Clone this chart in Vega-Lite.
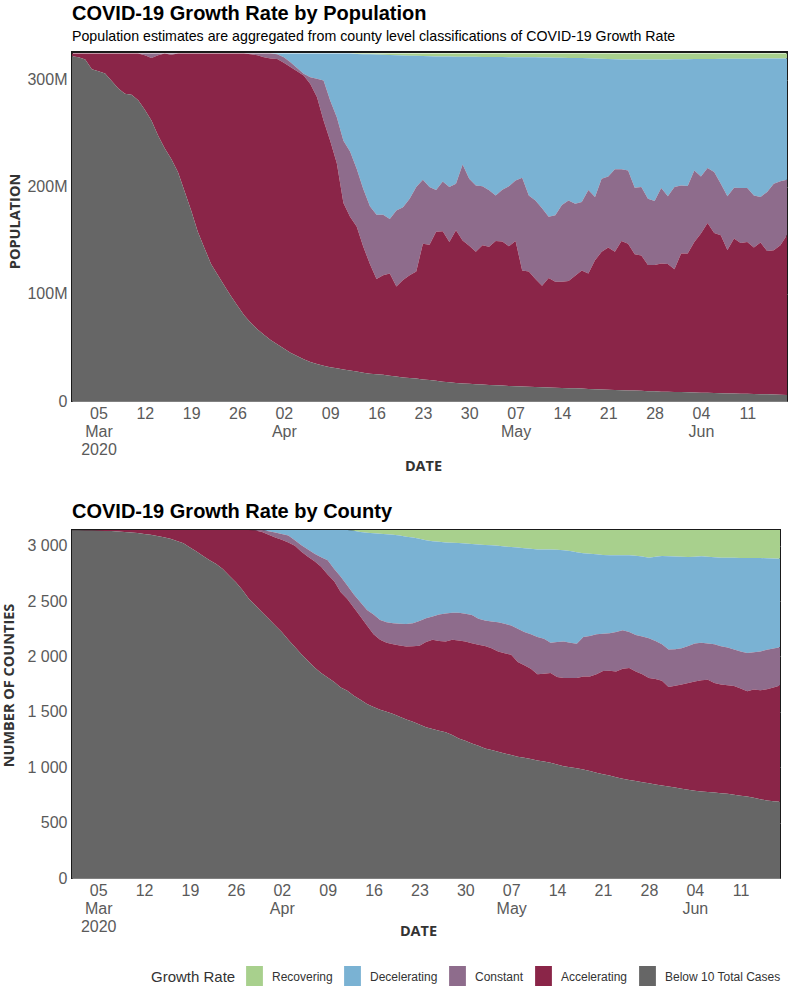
{
  "$schema": "https://vega.github.io/schema/vega-lite/v6.json",
  "background": "white",
  "padding": {"left": 0, "top": 2, "right": 2, "bottom": 0},
  "spacing": 27,
  "config": {
    "font": "Liberation Sans",
    "view": {"stroke": "#1a1a1a", "strokeWidth": 2},
    "title": {"anchor": "start", "frame": "group", "font": "Liberation Sans", "fontSize": 20, "fontWeight": "bold", "color": "#000000", "subtitleFont": "Liberation Sans", "subtitleFontSize": 14.2, "subtitleColor": "#000000", "subtitlePadding": 6, "offset": 8},
    "axis": {"labelFont": "Liberation Sans", "labelFontSize": 16, "labelColor": "#5a5a5a", "ticks": false, "domain": false, "titleFont": "Open Sans", "titleFontWeight": "bold", "titleFontSize": 14.5, "titleColor": "#333333", "gridColor": "#ffffff", "gridOpacity": 0.45, "gridWidth": 1, "zindex": 1, "labelPadding": 5},
    "legend": {"symbolStrokeWidth": 0, "symbolOpacity": 1}
  },
  "datasets": {
    "levels": [
      {"status": "Below 10 Total Cases", "level": 0},
      {"status": "Accelerating", "level": 1},
      {"status": "Constant", "level": 2},
      {"status": "Decelerating", "level": 3},
      {"status": "Recovering", "level": 4}
    ],
    "pop": [
      {"date":"2020-03-01","Below 10 Total Cases":322,"Accelerating":2.5,"Constant":0,"Decelerating":0,"Recovering":0},
      {"date":"2020-03-02","Below 10 Total Cases":321,"Accelerating":3.5,"Constant":0,"Decelerating":0,"Recovering":0},
      {"date":"2020-03-03","Below 10 Total Cases":319,"Accelerating":5.5,"Constant":0,"Decelerating":0,"Recovering":0},
      {"date":"2020-03-04","Below 10 Total Cases":310,"Accelerating":14.5,"Constant":0,"Decelerating":0,"Recovering":0},
      {"date":"2020-03-05","Below 10 Total Cases":308,"Accelerating":16.5,"Constant":0,"Decelerating":0,"Recovering":0},
      {"date":"2020-03-06","Below 10 Total Cases":306,"Accelerating":18.5,"Constant":0,"Decelerating":0,"Recovering":0},
      {"date":"2020-03-07","Below 10 Total Cases":299,"Accelerating":25.5,"Constant":0,"Decelerating":0,"Recovering":0},
      {"date":"2020-03-08","Below 10 Total Cases":292,"Accelerating":32.5,"Constant":0,"Decelerating":0,"Recovering":0},
      {"date":"2020-03-09","Below 10 Total Cases":287,"Accelerating":37.5,"Constant":0,"Decelerating":0,"Recovering":0},
      {"date":"2020-03-10","Below 10 Total Cases":286,"Accelerating":38.5,"Constant":0,"Decelerating":0,"Recovering":0},
      {"date":"2020-03-11","Below 10 Total Cases":281,"Accelerating":43.5,"Constant":0,"Decelerating":0,"Recovering":0},
      {"date":"2020-03-12","Below 10 Total Cases":272,"Accelerating":51,"Constant":1.5,"Decelerating":0,"Recovering":0},
      {"date":"2020-03-13","Below 10 Total Cases":262,"Accelerating":58.5,"Constant":4,"Decelerating":0,"Recovering":0},
      {"date":"2020-03-14","Below 10 Total Cases":248,"Accelerating":75,"Constant":1.5,"Decelerating":0,"Recovering":0},
      {"date":"2020-03-15","Below 10 Total Cases":236,"Accelerating":88.5,"Constant":0,"Decelerating":0,"Recovering":0},
      {"date":"2020-03-16","Below 10 Total Cases":226,"Accelerating":97.5,"Constant":1,"Decelerating":0,"Recovering":0},
      {"date":"2020-03-17","Below 10 Total Cases":214,"Accelerating":110.5,"Constant":0,"Decelerating":0,"Recovering":0},
      {"date":"2020-03-18","Below 10 Total Cases":196,"Accelerating":128.5,"Constant":0,"Decelerating":0,"Recovering":0},
      {"date":"2020-03-19","Below 10 Total Cases":178,"Accelerating":146.5,"Constant":0,"Decelerating":0,"Recovering":0},
      {"date":"2020-03-20","Below 10 Total Cases":158,"Accelerating":166.5,"Constant":0,"Decelerating":0,"Recovering":0},
      {"date":"2020-03-21","Below 10 Total Cases":143,"Accelerating":181.5,"Constant":0,"Decelerating":0,"Recovering":0},
      {"date":"2020-03-22","Below 10 Total Cases":128,"Accelerating":196.5,"Constant":0,"Decelerating":0,"Recovering":0},
      {"date":"2020-03-23","Below 10 Total Cases":118,"Accelerating":206.5,"Constant":0,"Decelerating":0,"Recovering":0},
      {"date":"2020-03-24","Below 10 Total Cases":108,"Accelerating":216.5,"Constant":0,"Decelerating":0,"Recovering":0},
      {"date":"2020-03-25","Below 10 Total Cases":98,"Accelerating":226.5,"Constant":0,"Decelerating":0,"Recovering":0},
      {"date":"2020-03-26","Below 10 Total Cases":89,"Accelerating":235.5,"Constant":0,"Decelerating":0,"Recovering":0},
      {"date":"2020-03-27","Below 10 Total Cases":80,"Accelerating":244.5,"Constant":0,"Decelerating":0,"Recovering":0},
      {"date":"2020-03-28","Below 10 Total Cases":73,"Accelerating":251,"Constant":0.5,"Decelerating":0,"Recovering":0},
      {"date":"2020-03-29","Below 10 Total Cases":67,"Accelerating":256,"Constant":1.5,"Decelerating":0,"Recovering":0},
      {"date":"2020-03-30","Below 10 Total Cases":62,"Accelerating":259,"Constant":3.5,"Decelerating":0,"Recovering":0},
      {"date":"2020-03-31","Below 10 Total Cases":57,"Accelerating":263,"Constant":4.5,"Decelerating":0,"Recovering":0},
      {"date":"2020-04-01","Below 10 Total Cases":53,"Accelerating":266.5,"Constant":4.5,"Decelerating":0.5,"Recovering":0},
      {"date":"2020-04-02","Below 10 Total Cases":49,"Accelerating":267,"Constant":5,"Decelerating":3.5,"Recovering":0},
      {"date":"2020-04-03","Below 10 Total Cases":45,"Accelerating":267,"Constant":4.4,"Decelerating":8.1,"Recovering":0},
      {"date":"2020-04-04","Below 10 Total Cases":42,"Accelerating":266,"Constant":3,"Decelerating":13.5,"Recovering":0},
      {"date":"2020-04-05","Below 10 Total Cases":39,"Accelerating":265,"Constant":1.6,"Decelerating":18.9,"Recovering":0},
      {"date":"2020-04-06","Below 10 Total Cases":36.5,"Accelerating":259.5,"Constant":6.5,"Decelerating":22,"Recovering":0},
      {"date":"2020-04-07","Below 10 Total Cases":34.5,"Accelerating":249.5,"Constant":17,"Decelerating":23.5,"Recovering":0},
      {"date":"2020-04-08","Below 10 Total Cases":33,"Accelerating":229,"Constant":37.3,"Decelerating":25.2,"Recovering":0},
      {"date":"2020-04-09","Below 10 Total Cases":31.5,"Accelerating":211.5,"Constant":37.7,"Decelerating":43.8,"Recovering":0},
      {"date":"2020-04-10","Below 10 Total Cases":30.5,"Accelerating":191.5,"Constant":43,"Decelerating":59.5,"Recovering":0},
      {"date":"2020-04-11","Below 10 Total Cases":29.5,"Accelerating":155.5,"Constant":58,"Decelerating":81.5,"Recovering":0},
      {"date":"2020-04-12","Below 10 Total Cases":28.5,"Accelerating":143.5,"Constant":61,"Decelerating":91.5,"Recovering":0},
      {"date":"2020-04-13","Below 10 Total Cases":27.5,"Accelerating":135.5,"Constant":54,"Decelerating":107.2,"Recovering":0.3},
      {"date":"2020-04-14","Below 10 Total Cases":26.5,"Accelerating":117.5,"Constant":54,"Decelerating":126,"Recovering":0.5},
      {"date":"2020-04-15","Below 10 Total Cases":25.5,"Accelerating":102.5,"Constant":54,"Decelerating":141.8,"Recovering":0.7},
      {"date":"2020-04-16","Below 10 Total Cases":25,"Accelerating":89,"Constant":60,"Decelerating":149.6,"Recovering":0.9},
      {"date":"2020-04-17","Below 10 Total Cases":24.5,"Accelerating":93,"Constant":56.5,"Decelerating":149.4,"Recovering":1.1},
      {"date":"2020-04-18","Below 10 Total Cases":23.5,"Accelerating":95.5,"Constant":51,"Decelerating":153.2,"Recovering":1.3},
      {"date":"2020-04-19","Below 10 Total Cases":23,"Accelerating":84,"Constant":71,"Decelerating":145,"Recovering":1.5},
      {"date":"2020-04-20","Below 10 Total Cases":22,"Accelerating":91,"Constant":68,"Decelerating":141.8,"Recovering":1.7},
      {"date":"2020-04-21","Below 10 Total Cases":21.5,"Accelerating":96,"Constant":71.5,"Decelerating":133.6,"Recovering":1.9},
      {"date":"2020-04-22","Below 10 Total Cases":21,"Accelerating":100,"Constant":79,"Decelerating":122.4,"Recovering":2.1},
      {"date":"2020-04-23","Below 10 Total Cases":20,"Accelerating":127,"Constant":59.7,"Decelerating":115.5,"Recovering":2.3},
      {"date":"2020-04-24","Below 10 Total Cases":19.5,"Accelerating":126.5,"Constant":54,"Decelerating":122,"Recovering":2.5},
      {"date":"2020-04-25","Below 10 Total Cases":19,"Accelerating":139,"Constant":39,"Decelerating":124.9,"Recovering":2.6},
      {"date":"2020-04-26","Below 10 Total Cases":18,"Accelerating":140.5,"Constant":46.5,"Decelerating":116.8,"Recovering":2.7},
      {"date":"2020-04-27","Below 10 Total Cases":17.5,"Accelerating":131.1,"Constant":51.4,"Decelerating":121.7,"Recovering":2.8},
      {"date":"2020-04-28","Below 10 Total Cases":16.8,"Accelerating":142.7,"Constant":43.5,"Decelerating":118.6,"Recovering":2.9},
      {"date":"2020-04-29","Below 10 Total Cases":16.3,"Accelerating":133.7,"Constant":71,"Decelerating":100.5,"Recovering":3},
      {"date":"2020-04-30","Below 10 Total Cases":16,"Accelerating":129,"Constant":62.6,"Decelerating":113.9,"Recovering":3},
      {"date":"2020-05-01","Below 10 Total Cases":15.6,"Accelerating":123.9,"Constant":61.9,"Decelerating":120.1,"Recovering":3},
      {"date":"2020-05-02","Below 10 Total Cases":15.3,"Accelerating":130.2,"Constant":55,"Decelerating":120.9,"Recovering":3.1},
      {"date":"2020-05-03","Below 10 Total Cases":15,"Accelerating":129,"Constant":52.8,"Decelerating":124.6,"Recovering":3.1},
      {"date":"2020-05-04","Below 10 Total Cases":14.7,"Accelerating":134.8,"Constant":42.5,"Decelerating":129.3,"Recovering":3.2},
      {"date":"2020-05-05","Below 10 Total Cases":14.4,"Accelerating":134.6,"Constant":48.4,"Decelerating":123.9,"Recovering":3.2},
      {"date":"2020-05-06","Below 10 Total Cases":14.1,"Accelerating":130.5,"Constant":55.9,"Decelerating":120.7,"Recovering":3.3},
      {"date":"2020-05-07","Below 10 Total Cases":13.8,"Accelerating":135.7,"Constant":56.5,"Decelerating":115.2,"Recovering":3.3},
      {"date":"2020-05-08","Below 10 Total Cases":13.6,"Accelerating":108.4,"Constant":86.6,"Decelerating":112.5,"Recovering":3.4},
      {"date":"2020-05-09","Below 10 Total Cases":13.4,"Accelerating":107.6,"Constant":71,"Decelerating":129.1,"Recovering":3.4},
      {"date":"2020-05-10","Below 10 Total Cases":13.1,"Accelerating":100.9,"Constant":73.4,"Decelerating":133.6,"Recovering":3.5},
      {"date":"2020-05-11","Below 10 Total Cases":12.9,"Accelerating":94.7,"Constant":72.4,"Decelerating":140.9,"Recovering":3.6},
      {"date":"2020-05-12","Below 10 Total Cases":12.7,"Accelerating":102.3,"Constant":57,"Decelerating":148.8,"Recovering":3.7},
      {"date":"2020-05-13","Below 10 Total Cases":12.4,"Accelerating":98.9,"Constant":62.2,"Decelerating":147.2,"Recovering":3.8},
      {"date":"2020-05-14","Below 10 Total Cases":12.2,"Accelerating":99.3,"Constant":71.5,"Decelerating":137.6,"Recovering":3.9},
      {"date":"2020-05-15","Below 10 Total Cases":12,"Accelerating":100,"Constant":75.4,"Decelerating":133.1,"Recovering":4},
      {"date":"2020-05-16","Below 10 Total Cases":11.8,"Accelerating":105.2,"Constant":67.3,"Decelerating":136.2,"Recovering":4},
      {"date":"2020-05-17","Below 10 Total Cases":11.6,"Accelerating":110.4,"Constant":64,"Decelerating":134.3,"Recovering":4.2},
      {"date":"2020-05-18","Below 10 Total Cases":11.3,"Accelerating":107.7,"Constant":78,"Decelerating":123.1,"Recovering":4.4},
      {"date":"2020-05-19","Below 10 Total Cases":11,"Accelerating":120.5,"Constant":59.1,"Decelerating":129.3,"Recovering":4.6},
      {"date":"2020-05-20","Below 10 Total Cases":10.8,"Accelerating":128.5,"Constant":68.3,"Decelerating":112.1,"Recovering":4.8},
      {"date":"2020-05-21","Below 10 Total Cases":10.6,"Accelerating":132.7,"Constant":66.5,"Decelerating":109.7,"Recovering":5},
      {"date":"2020-05-22","Below 10 Total Cases":10.3,"Accelerating":129,"Constant":77.1,"Decelerating":102.8,"Recovering":5.3},
      {"date":"2020-05-23","Below 10 Total Cases":10.1,"Accelerating":139.4,"Constant":66.9,"Decelerating":102.6,"Recovering":5.5},
      {"date":"2020-05-24","Below 10 Total Cases":9.9,"Accelerating":137.1,"Constant":68.4,"Decelerating":103.5,"Recovering":5.6},
      {"date":"2020-05-25","Below 10 Total Cases":9.7,"Accelerating":127.3,"Constant":62.3,"Decelerating":119.6,"Recovering":5.6},
      {"date":"2020-05-26","Below 10 Total Cases":9.5,"Accelerating":126.5,"Constant":64,"Decelerating":118.9,"Recovering":5.6},
      {"date":"2020-05-27","Below 10 Total Cases":9.2,"Accelerating":117.8,"Constant":62,"Decelerating":129.9,"Recovering":5.6},
      {"date":"2020-05-28","Below 10 Total Cases":9,"Accelerating":118,"Constant":59.8,"Decelerating":132.1,"Recovering":5.6},
      {"date":"2020-05-29","Below 10 Total Cases":8.7,"Accelerating":119.7,"Constant":70.6,"Decelerating":120,"Recovering":5.5},
      {"date":"2020-05-30","Below 10 Total Cases":8.6,"Accelerating":119.4,"Constant":63.2,"Decelerating":127.9,"Recovering":5.4},
      {"date":"2020-05-31","Below 10 Total Cases":8.4,"Accelerating":114.6,"Constant":77,"Decelerating":119.2,"Recovering":5.3},
      {"date":"2020-06-01","Below 10 Total Cases":8.3,"Accelerating":129.4,"Constant":63.7,"Decelerating":117.9,"Recovering":5.2},
      {"date":"2020-06-02","Below 10 Total Cases":8.1,"Accelerating":129.6,"Constant":63.1,"Decelerating":118.5,"Recovering":5.2},
      {"date":"2020-06-03","Below 10 Total Cases":8,"Accelerating":140.6,"Constant":66.8,"Decelerating":104,"Recovering":5.1},
      {"date":"2020-06-04","Below 10 Total Cases":7.8,"Accelerating":148.6,"Constant":53.4,"Decelerating":109.6,"Recovering":5.1},
      {"date":"2020-06-05","Below 10 Total Cases":7.6,"Accelerating":158.7,"Constant":51.3,"Decelerating":101.9,"Recovering":5},
      {"date":"2020-06-06","Below 10 Total Cases":7.5,"Accelerating":149.5,"Constant":57,"Decelerating":105.5,"Recovering":5},
      {"date":"2020-06-07","Below 10 Total Cases":7.3,"Accelerating":147.5,"Constant":48.2,"Decelerating":116.6,"Recovering":4.9},
      {"date":"2020-06-08","Below 10 Total Cases":7.1,"Accelerating":133.9,"Constant":50.2,"Decelerating":128.4,"Recovering":4.9},
      {"date":"2020-06-09","Below 10 Total Cases":7,"Accelerating":144.7,"Constant":47.6,"Decelerating":120.4,"Recovering":4.8},
      {"date":"2020-06-10","Below 10 Total Cases":6.8,"Accelerating":140.9,"Constant":51.3,"Decelerating":120.7,"Recovering":4.8},
      {"date":"2020-06-11","Below 10 Total Cases":6.7,"Accelerating":141.9,"Constant":50.4,"Decelerating":120.8,"Recovering":4.7},
      {"date":"2020-06-12","Below 10 Total Cases":6.5,"Accelerating":136.8,"Constant":48.7,"Decelerating":127.8,"Recovering":4.7},
      {"date":"2020-06-13","Below 10 Total Cases":6.3,"Accelerating":141.7,"Constant":42.6,"Decelerating":129.3,"Recovering":4.6},
      {"date":"2020-06-14","Below 10 Total Cases":6.2,"Accelerating":134,"Constant":55,"Decelerating":124.7,"Recovering":4.6},
      {"date":"2020-06-15","Below 10 Total Cases":6,"Accelerating":134.8,"Constant":62.2,"Decelerating":117,"Recovering":4.5},
      {"date":"2020-06-16","Below 10 Total Cases":5.8,"Accelerating":139.7,"Constant":59.7,"Decelerating":114.8,"Recovering":4.5},
      {"date":"2020-06-17","Below 10 Total Cases":5.5,"Accelerating":149.5,"Constant":51.7,"Decelerating":113.3,"Recovering":4.5}
    ],
    "cty": [
      {"date":"2020-03-01","Below 10 Total Cases":3140,"Accelerating":2,"Constant":0,"Decelerating":0,"Recovering":0},
      {"date":"2020-03-02","Below 10 Total Cases":3139,"Accelerating":3,"Constant":0,"Decelerating":0,"Recovering":0},
      {"date":"2020-03-03","Below 10 Total Cases":3138,"Accelerating":4,"Constant":0,"Decelerating":0,"Recovering":0},
      {"date":"2020-03-04","Below 10 Total Cases":3137,"Accelerating":5,"Constant":0,"Decelerating":0,"Recovering":0},
      {"date":"2020-03-05","Below 10 Total Cases":3136,"Accelerating":6,"Constant":0,"Decelerating":0,"Recovering":0},
      {"date":"2020-03-06","Below 10 Total Cases":3134,"Accelerating":8,"Constant":0,"Decelerating":0,"Recovering":0},
      {"date":"2020-03-07","Below 10 Total Cases":3132,"Accelerating":10,"Constant":0,"Decelerating":0,"Recovering":0},
      {"date":"2020-03-08","Below 10 Total Cases":3129,"Accelerating":13,"Constant":0,"Decelerating":0,"Recovering":0},
      {"date":"2020-03-09","Below 10 Total Cases":3125,"Accelerating":17,"Constant":0,"Decelerating":0,"Recovering":0},
      {"date":"2020-03-10","Below 10 Total Cases":3120,"Accelerating":22,"Constant":0,"Decelerating":0,"Recovering":0},
      {"date":"2020-03-11","Below 10 Total Cases":3114,"Accelerating":28,"Constant":0,"Decelerating":0,"Recovering":0},
      {"date":"2020-03-12","Below 10 Total Cases":3106,"Accelerating":36,"Constant":0,"Decelerating":0,"Recovering":0},
      {"date":"2020-03-13","Below 10 Total Cases":3098,"Accelerating":44,"Constant":0,"Decelerating":0,"Recovering":0},
      {"date":"2020-03-14","Below 10 Total Cases":3088,"Accelerating":54,"Constant":0,"Decelerating":0,"Recovering":0},
      {"date":"2020-03-15","Below 10 Total Cases":3076,"Accelerating":66,"Constant":0,"Decelerating":0,"Recovering":0},
      {"date":"2020-03-16","Below 10 Total Cases":3064,"Accelerating":78,"Constant":0,"Decelerating":0,"Recovering":0},
      {"date":"2020-03-17","Below 10 Total Cases":3042,"Accelerating":100,"Constant":0,"Decelerating":0,"Recovering":0},
      {"date":"2020-03-18","Below 10 Total Cases":3022,"Accelerating":120,"Constant":0,"Decelerating":0,"Recovering":0},
      {"date":"2020-03-19","Below 10 Total Cases":2985,"Accelerating":157,"Constant":0,"Decelerating":0,"Recovering":0},
      {"date":"2020-03-20","Below 10 Total Cases":2948,"Accelerating":194,"Constant":0,"Decelerating":0,"Recovering":0},
      {"date":"2020-03-21","Below 10 Total Cases":2908,"Accelerating":234,"Constant":0,"Decelerating":0,"Recovering":0},
      {"date":"2020-03-22","Below 10 Total Cases":2870,"Accelerating":272,"Constant":0,"Decelerating":0,"Recovering":0},
      {"date":"2020-03-23","Below 10 Total Cases":2835,"Accelerating":307,"Constant":0,"Decelerating":0,"Recovering":0},
      {"date":"2020-03-24","Below 10 Total Cases":2790,"Accelerating":352,"Constant":0,"Decelerating":0,"Recovering":0},
      {"date":"2020-03-25","Below 10 Total Cases":2730,"Accelerating":412,"Constant":0,"Decelerating":0,"Recovering":0},
      {"date":"2020-03-26","Below 10 Total Cases":2670,"Accelerating":472,"Constant":0,"Decelerating":0,"Recovering":0},
      {"date":"2020-03-27","Below 10 Total Cases":2600,"Accelerating":542,"Constant":0,"Decelerating":0,"Recovering":0},
      {"date":"2020-03-28","Below 10 Total Cases":2520,"Accelerating":622,"Constant":0,"Decelerating":0,"Recovering":0},
      {"date":"2020-03-29","Below 10 Total Cases":2460,"Accelerating":678,"Constant":4,"Decelerating":0,"Recovering":0},
      {"date":"2020-03-30","Below 10 Total Cases":2400,"Accelerating":725,"Constant":17,"Decelerating":0,"Recovering":0},
      {"date":"2020-03-31","Below 10 Total Cases":2340,"Accelerating":760,"Constant":30,"Decelerating":12,"Recovering":0},
      {"date":"2020-04-01","Below 10 Total Cases":2280,"Accelerating":795,"Constant":45,"Decelerating":22,"Recovering":0},
      {"date":"2020-04-02","Below 10 Total Cases":2220,"Accelerating":835,"Constant":50,"Decelerating":37,"Recovering":0},
      {"date":"2020-04-03","Below 10 Total Cases":2150,"Accelerating":880,"Constant":63,"Decelerating":49,"Recovering":0},
      {"date":"2020-04-04","Below 10 Total Cases":2085,"Accelerating":915,"Constant":50,"Decelerating":92,"Recovering":0},
      {"date":"2020-04-05","Below 10 Total Cases":2020,"Accelerating":925,"Constant":60,"Decelerating":137,"Recovering":0},
      {"date":"2020-04-06","Below 10 Total Cases":1960,"Accelerating":940,"Constant":65,"Decelerating":177,"Recovering":0},
      {"date":"2020-04-07","Below 10 Total Cases":1900,"Accelerating":960,"Constant":68,"Decelerating":214,"Recovering":0},
      {"date":"2020-04-08","Below 10 Total Cases":1850,"Accelerating":960,"Constant":85,"Decelerating":247,"Recovering":0},
      {"date":"2020-04-09","Below 10 Total Cases":1810,"Accelerating":930,"Constant":128,"Decelerating":274,"Recovering":0},
      {"date":"2020-04-10","Below 10 Total Cases":1770,"Accelerating":910,"Constant":110,"Decelerating":352,"Recovering":0},
      {"date":"2020-04-11","Below 10 Total Cases":1720,"Accelerating":860,"Constant":140,"Decelerating":422,"Recovering":0},
      {"date":"2020-04-12","Below 10 Total Cases":1690,"Accelerating":830,"Constant":120,"Decelerating":502,"Recovering":0},
      {"date":"2020-04-13","Below 10 Total Cases":1645,"Accelerating":795,"Constant":120,"Decelerating":575,"Recovering":7},
      {"date":"2020-04-14","Below 10 Total Cases":1610,"Accelerating":750,"Constant":130,"Decelerating":635,"Recovering":17},
      {"date":"2020-04-15","Below 10 Total Cases":1570,"Accelerating":710,"Constant":140,"Decelerating":697,"Recovering":25},
      {"date":"2020-04-16","Below 10 Total Cases":1545,"Accelerating":655,"Constant":180,"Decelerating":732,"Recovering":30},
      {"date":"2020-04-17","Below 10 Total Cases":1520,"Accelerating":630,"Constant":180,"Decelerating":778,"Recovering":34},
      {"date":"2020-04-18","Below 10 Total Cases":1500,"Accelerating":625,"Constant":185,"Decelerating":794,"Recovering":38},
      {"date":"2020-04-19","Below 10 Total Cases":1480,"Accelerating":630,"Constant":190,"Decelerating":798,"Recovering":44},
      {"date":"2020-04-20","Below 10 Total Cases":1455,"Accelerating":645,"Constant":196,"Decelerating":796,"Recovering":50},
      {"date":"2020-04-21","Below 10 Total Cases":1430,"Accelerating":660,"Constant":203,"Decelerating":789,"Recovering":60},
      {"date":"2020-04-22","Below 10 Total Cases":1410,"Accelerating":682,"Constant":208,"Decelerating":774,"Recovering":68},
      {"date":"2020-04-23","Below 10 Total Cases":1385,"Accelerating":713,"Constant":222,"Decelerating":744,"Recovering":78},
      {"date":"2020-04-24","Below 10 Total Cases":1360,"Accelerating":770,"Constant":215,"Decelerating":705,"Recovering":92},
      {"date":"2020-04-25","Below 10 Total Cases":1345,"Accelerating":805,"Constant":210,"Decelerating":680,"Recovering":102},
      {"date":"2020-04-26","Below 10 Total Cases":1330,"Accelerating":810,"Constant":240,"Decelerating":655,"Recovering":107},
      {"date":"2020-04-27","Below 10 Total Cases":1315,"Accelerating":820,"Constant":253,"Decelerating":642,"Recovering":112},
      {"date":"2020-04-28","Below 10 Total Cases":1290,"Accelerating":860,"Constant":245,"Decelerating":631,"Recovering":116},
      {"date":"2020-04-29","Below 10 Total Cases":1260,"Accelerating":885,"Constant":250,"Decelerating":629,"Recovering":118},
      {"date":"2020-04-30","Below 10 Total Cases":1240,"Accelerating":895,"Constant":250,"Decelerating":635,"Recovering":122},
      {"date":"2020-05-01","Below 10 Total Cases":1215,"Accelerating":905,"Constant":254,"Decelerating":642,"Recovering":126},
      {"date":"2020-05-02","Below 10 Total Cases":1195,"Accelerating":910,"Constant":235,"Decelerating":671,"Recovering":131},
      {"date":"2020-05-03","Below 10 Total Cases":1170,"Accelerating":925,"Constant":230,"Decelerating":682,"Recovering":135},
      {"date":"2020-05-04","Below 10 Total Cases":1155,"Accelerating":920,"Constant":241,"Decelerating":688,"Recovering":138},
      {"date":"2020-05-05","Below 10 Total Cases":1140,"Accelerating":905,"Constant":265,"Decelerating":690,"Recovering":142},
      {"date":"2020-05-06","Below 10 Total Cases":1125,"Accelerating":905,"Constant":265,"Decelerating":699,"Recovering":148},
      {"date":"2020-05-07","Below 10 Total Cases":1110,"Accelerating":905,"Constant":265,"Decelerating":708,"Recovering":154},
      {"date":"2020-05-08","Below 10 Total Cases":1095,"Accelerating":855,"Constant":300,"Decelerating":733,"Recovering":159},
      {"date":"2020-05-09","Below 10 Total Cases":1085,"Accelerating":835,"Constant":300,"Decelerating":758,"Recovering":164},
      {"date":"2020-05-10","Below 10 Total Cases":1075,"Accelerating":815,"Constant":310,"Decelerating":772,"Recovering":170},
      {"date":"2020-05-11","Below 10 Total Cases":1062,"Accelerating":778,"Constant":335,"Decelerating":792,"Recovering":175},
      {"date":"2020-05-12","Below 10 Total Cases":1052,"Accelerating":793,"Constant":315,"Decelerating":806,"Recovering":176},
      {"date":"2020-05-13","Below 10 Total Cases":1040,"Accelerating":810,"Constant":275,"Decelerating":840,"Recovering":177},
      {"date":"2020-05-14","Below 10 Total Cases":1025,"Accelerating":790,"Constant":315,"Decelerating":834,"Recovering":178},
      {"date":"2020-05-15","Below 10 Total Cases":1010,"Accelerating":795,"Constant":330,"Decelerating":825,"Recovering":182},
      {"date":"2020-05-16","Below 10 Total Cases":1000,"Accelerating":805,"Constant":320,"Decelerating":827,"Recovering":190},
      {"date":"2020-05-17","Below 10 Total Cases":990,"Accelerating":815,"Constant":310,"Decelerating":825,"Recovering":202},
      {"date":"2020-05-18","Below 10 Total Cases":980,"Accelerating":840,"Constant":355,"Decelerating":757,"Recovering":210},
      {"date":"2020-05-19","Below 10 Total Cases":965,"Accelerating":855,"Constant":365,"Decelerating":743,"Recovering":214},
      {"date":"2020-05-20","Below 10 Total Cases":950,"Accelerating":890,"Constant":360,"Decelerating":722,"Recovering":220},
      {"date":"2020-05-21","Below 10 Total Cases":937,"Accelerating":933,"Constant":335,"Decelerating":711,"Recovering":226},
      {"date":"2020-05-22","Below 10 Total Cases":925,"Accelerating":947,"Constant":338,"Decelerating":703,"Recovering":229},
      {"date":"2020-05-23","Below 10 Total Cases":910,"Accelerating":955,"Constant":355,"Decelerating":693,"Recovering":229},
      {"date":"2020-05-24","Below 10 Total Cases":895,"Accelerating":995,"Constant":348,"Decelerating":675,"Recovering":229},
      {"date":"2020-05-25","Below 10 Total Cases":885,"Accelerating":1010,"Constant":325,"Decelerating":693,"Recovering":229},
      {"date":"2020-05-26","Below 10 Total Cases":875,"Accelerating":990,"Constant":330,"Decelerating":715,"Recovering":232},
      {"date":"2020-05-27","Below 10 Total Cases":865,"Accelerating":975,"Constant":340,"Decelerating":722,"Recovering":240},
      {"date":"2020-05-28","Below 10 Total Cases":855,"Accelerating":950,"Constant":360,"Decelerating":727,"Recovering":250},
      {"date":"2020-05-29","Below 10 Total Cases":845,"Accelerating":951,"Constant":344,"Decelerating":760,"Recovering":242},
      {"date":"2020-05-30","Below 10 Total Cases":835,"Accelerating":945,"Constant":330,"Decelerating":797,"Recovering":235},
      {"date":"2020-05-31","Below 10 Total Cases":826,"Accelerating":899,"Constant":337,"Decelerating":843,"Recovering":237},
      {"date":"2020-06-01","Below 10 Total Cases":816,"Accelerating":919,"Constant":330,"Decelerating":837,"Recovering":240},
      {"date":"2020-06-02","Below 10 Total Cases":806,"Accelerating":940,"Constant":329,"Decelerating":825,"Recovering":242},
      {"date":"2020-06-03","Below 10 Total Cases":797,"Accelerating":963,"Constant":335,"Decelerating":803,"Recovering":244},
      {"date":"2020-06-04","Below 10 Total Cases":788,"Accelerating":987,"Constant":343,"Decelerating":782,"Recovering":242},
      {"date":"2020-06-05","Below 10 Total Cases":782,"Accelerating":1003,"Constant":340,"Decelerating":779,"Recovering":238},
      {"date":"2020-06-06","Below 10 Total Cases":777,"Accelerating":1013,"Constant":328,"Decelerating":782,"Recovering":242},
      {"date":"2020-06-07","Below 10 Total Cases":772,"Accelerating":988,"Constant":350,"Decelerating":785,"Recovering":247},
      {"date":"2020-06-08","Below 10 Total Cases":766,"Accelerating":980,"Constant":346,"Decelerating":800,"Recovering":250},
      {"date":"2020-06-09","Below 10 Total Cases":760,"Accelerating":980,"Constant":340,"Decelerating":812,"Recovering":250},
      {"date":"2020-06-10","Below 10 Total Cases":752,"Accelerating":981,"Constant":329,"Decelerating":829,"Recovering":251},
      {"date":"2020-06-11","Below 10 Total Cases":743,"Accelerating":967,"Constant":335,"Decelerating":845,"Recovering":252},
      {"date":"2020-06-12","Below 10 Total Cases":735,"Accelerating":951,"Constant":346,"Decelerating":858,"Recovering":252},
      {"date":"2020-06-13","Below 10 Total Cases":724,"Accelerating":977,"Constant":337,"Decelerating":851,"Recovering":253},
      {"date":"2020-06-14","Below 10 Total Cases":712,"Accelerating":983,"Constant":350,"Decelerating":844,"Recovering":253},
      {"date":"2020-06-15","Below 10 Total Cases":700,"Accelerating":1005,"Constant":355,"Decelerating":827,"Recovering":255},
      {"date":"2020-06-16","Below 10 Total Cases":693,"Accelerating":1027,"Constant":352,"Decelerating":813,"Recovering":257},
      {"date":"2020-06-17","Below 10 Total Cases":688,"Accelerating":1049,"Constant":347,"Decelerating":799,"Recovering":259}
    ]
  },
  "vconcat": [
    {
      "width": 715,
      "height": 349,
      "title": {"text": "COVID-19 Growth Rate by Population", "subtitle": "Population estimates are aggregated from county level classifications of COVID-19 Growth Rate"},
      "data": {"name": "pop"},
      "transform": [
        {"fold": ["Recovering", "Decelerating", "Constant", "Accelerating", "Below 10 Total Cases"], "as": ["status", "population_millions"]},
        {"lookup": "status", "from": {"data": {"name": "levels"}, "key": "status", "fields": ["level"]}}
      ],
      "mark": {"type": "area", "interpolate": "linear", "opacity": 1},
      "encoding": {
        "x": {
          "field": "date", "type": "temporal",
          "scale": {"type": "utc", "nice": false},
          "axis": {
            "title": "DATE", "grid": false, "labelLineHeight": 18, "labelPadding": 4, "labelOverlap": false, "labelFlush": false,
            "titleX": 351, "titleY": 65, "titleBaseline": "middle", "titleAlign": "center",
            "values": [
              {"year": 2020, "month": 3, "date": 5, "utc": true}, {"year": 2020, "month": 3, "date": 12, "utc": true},
              {"year": 2020, "month": 3, "date": 19, "utc": true}, {"year": 2020, "month": 3, "date": 26, "utc": true},
              {"year": 2020, "month": 4, "date": 2, "utc": true}, {"year": 2020, "month": 4, "date": 9, "utc": true},
              {"year": 2020, "month": 4, "date": 16, "utc": true}, {"year": 2020, "month": 4, "date": 23, "utc": true},
              {"year": 2020, "month": 4, "date": 30, "utc": true}, {"year": 2020, "month": 5, "date": 7, "utc": true},
              {"year": 2020, "month": 5, "date": 14, "utc": true}, {"year": 2020, "month": 5, "date": 21, "utc": true},
              {"year": 2020, "month": 5, "date": 28, "utc": true}, {"year": 2020, "month": 6, "date": 4, "utc": true},
              {"year": 2020, "month": 6, "date": 11, "utc": true}
            ],
            "labelExpr": "utcdate(datum.value) <= 7 ? (utcmonth(datum.value) == 2 ? [utcFormat(datum.value, '%d'), utcFormat(datum.value, '%b'), utcFormat(datum.value, '%Y')] : [utcFormat(datum.value, '%d'), utcFormat(datum.value, '%b')]) : utcFormat(datum.value, '%d')"
          }
        },
        "y": {
          "field": "population_millions", "type": "quantitative", "stack": "zero",
          "scale": {"domain": [0, 326], "nice": false},
          "axis": {"title": "POPULATION", "grid": true, "values": [0, 100, 200, 300], "labelExpr": "datum.value == 0 ? '0' : datum.value + 'M'", "titleX": -57, "titleY": 169, "titleBaseline": "middle", "titleAlign": "center"}
        },
        "color": {
          "field": "status", "type": "nominal",
          "scale": {"domain": ["Recovering", "Decelerating", "Constant", "Accelerating", "Below 10 Total Cases"], "range": ["#a8d08d", "#7ab2d3", "#8e6c8c", "#8a2548", "#666666"]},
          "legend": {
            "title": "Growth Rate", "orient": "none", "legendX": 79, "legendY": 914, "direction": "horizontal",
            "titleOrient": "left", "titleFont": "Liberation Sans", "titleFontSize": 15, "titleFontWeight": "normal", "titleColor": "#333333", "titlePadding": 8,
            "labelFont": "Liberation Sans", "labelFontSize": 12, "labelColor": "#333333", "labelOffset": 7, "columnPadding": 9,
            "symbolType": "M-0.8,-1H0.8V1H-0.8Z", "symbolSize": 441
          }
        },
        "order": {"field": "level", "type": "quantitative"}
      }
    },
    {
      "width": 708,
      "height": 348,
      "title": {"text": "COVID-19 Growth Rate by County"},
      "data": {"name": "cty"},
      "transform": [
        {"fold": ["Recovering", "Decelerating", "Constant", "Accelerating", "Below 10 Total Cases"], "as": ["status", "counties"]},
        {"lookup": "status", "from": {"data": {"name": "levels"}, "key": "status", "fields": ["level"]}}
      ],
      "mark": {"type": "area", "interpolate": "linear", "opacity": 1},
      "encoding": {
        "x": {
          "field": "date", "type": "temporal",
          "scale": {"type": "utc", "nice": false},
          "axis": {
            "title": "DATE", "grid": false, "labelLineHeight": 18, "labelPadding": 4, "labelOverlap": false, "labelFlush": false,
            "titleX": 346, "titleY": 53, "titleBaseline": "middle", "titleAlign": "center",
            "values": [
              {"year": 2020, "month": 3, "date": 5, "utc": true}, {"year": 2020, "month": 3, "date": 12, "utc": true},
              {"year": 2020, "month": 3, "date": 19, "utc": true}, {"year": 2020, "month": 3, "date": 26, "utc": true},
              {"year": 2020, "month": 4, "date": 2, "utc": true}, {"year": 2020, "month": 4, "date": 9, "utc": true},
              {"year": 2020, "month": 4, "date": 16, "utc": true}, {"year": 2020, "month": 4, "date": 23, "utc": true},
              {"year": 2020, "month": 4, "date": 30, "utc": true}, {"year": 2020, "month": 5, "date": 7, "utc": true},
              {"year": 2020, "month": 5, "date": 14, "utc": true}, {"year": 2020, "month": 5, "date": 21, "utc": true},
              {"year": 2020, "month": 5, "date": 28, "utc": true}, {"year": 2020, "month": 6, "date": 4, "utc": true},
              {"year": 2020, "month": 6, "date": 11, "utc": true}
            ],
            "labelExpr": "utcdate(datum.value) <= 7 ? (utcmonth(datum.value) == 2 ? [utcFormat(datum.value, '%d'), utcFormat(datum.value, '%b'), utcFormat(datum.value, '%Y')] : [utcFormat(datum.value, '%d'), utcFormat(datum.value, '%b')]) : utcFormat(datum.value, '%d')"
          }
        },
        "y": {
          "field": "counties", "type": "quantitative", "stack": "zero",
          "scale": {"domain": [0, 3142], "nice": false},
          "axis": {"title": "NUMBER OF COUNTIES", "grid": true, "values": [0, 500, 1000, 1500, 2000, 2500, 3000], "labelExpr": "replace(format(datum.value, ','), ',', ' ')", "titleX": -63, "titleY": 155, "titleBaseline": "middle", "titleAlign": "center"}
        },
        "color": {
          "field": "status", "type": "nominal",
          "scale": {"domain": ["Recovering", "Decelerating", "Constant", "Accelerating", "Below 10 Total Cases"], "range": ["#a8d08d", "#7ab2d3", "#8e6c8c", "#8a2548", "#666666"]}
        },
        "order": {"field": "level", "type": "quantitative"}
      }
    }
  ]
}
